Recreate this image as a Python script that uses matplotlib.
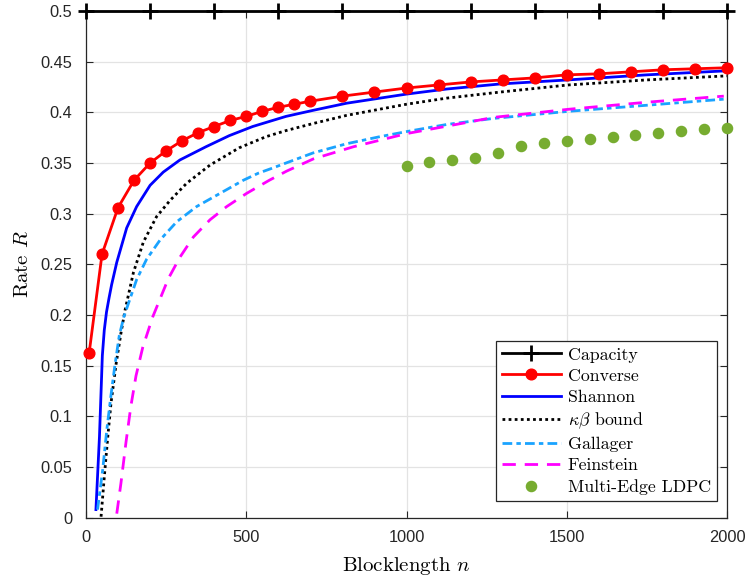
#!/usr/bin/env python3
import matplotlib
matplotlib.use("Agg")
import matplotlib.pyplot as plt

plt.rcParams['mathtext.fontset'] = 'cm'
plt.rcParams['font.family'] = ['Liberation Sans', 'DejaVu Sans']

# Data
capacity_n = [0, 200, 400, 600, 800, 1000, 1200, 1400, 1600, 1800, 2000]
capacity = [0.5] * len(capacity_n)

converse_n = [10, 50, 100, 150, 200, 250, 300, 350, 400, 450, 500, 550, 600, 650,
              700, 800, 900, 1000, 1100, 1200, 1300, 1400, 1500, 1600, 1700, 1800, 1900, 2000]
converse = [0.163, 0.260, 0.306, 0.333, 0.350, 0.362, 0.372, 0.380, 0.386, 0.392, 0.396,
            0.401, 0.405, 0.408, 0.411, 0.416, 0.420, 0.424, 0.427, 0.430, 0.432, 0.434,
            0.437, 0.438, 0.440, 0.442, 0.443, 0.444]

shannon_n = [31, 42, 51, 57, 64, 72, 80, 96, 127, 158, 200, 241, 293, 374, 447, 520, 624,
             709, 813, 1000, 1125, 1292, 1504, 1750, 2000]
shannon = [0.008, 0.080, 0.160, 0.185, 0.203, 0.217, 0.230, 0.252, 0.286, 0.307, 0.328,
           0.341, 0.353, 0.366, 0.377, 0.386, 0.396, 0.402, 0.409, 0.418, 0.423, 0.428,
           0.432, 0.437, 0.441]

kb_n = [47, 57, 68, 78, 94, 109, 122, 148, 179, 220, 262, 314, 387, 478, 562, 624, 709,
        813, 1000, 1125, 1292, 1504, 1750, 2000]
kb = [0.001, 0.040, 0.080, 0.113, 0.152, 0.182, 0.205, 0.242, 0.272, 0.297, 0.313, 0.330,
      0.348, 0.365, 0.376, 0.382, 0.389, 0.397, 0.408, 0.414, 0.420, 0.427, 0.432, 0.436]

gallager_n = [36, 52, 65, 78, 90, 104, 118, 133, 158, 189, 231, 283, 345, 418, 491, 538,
              582, 624, 709, 813, 917, 1000, 1125, 1271, 1505, 1750, 1990]
gallager = [0.008, 0.047, 0.087, 0.121, 0.150, 0.180, 0.198, 0.212, 0.235, 0.255, 0.274,
            0.292, 0.307, 0.320, 0.333, 0.340, 0.345, 0.350, 0.360, 0.369, 0.376, 0.381,
            0.388, 0.394, 0.401, 0.407, 0.413]

feinstein_n = [96, 109, 125, 140, 156, 177, 208, 226, 257, 293, 335, 387, 439, 501, 572,
               626, 709, 834, 1000, 1188, 1271, 1505, 1750, 1990]
feinstein = [0.004, 0.034, 0.075, 0.110, 0.140, 0.168, 0.198, 0.212, 0.236, 0.257, 0.277,
             0.294, 0.307, 0.320, 0.333, 0.342, 0.354, 0.366, 0.379, 0.390, 0.395, 0.403,
             0.410, 0.416]

ldpc_n = [1000, 1071, 1143, 1214, 1286, 1357, 1429, 1500, 1571, 1643, 1714, 1786, 1857,
          1929, 2000]
ldpc = [0.347, 0.351, 0.353, 0.355, 0.360, 0.367, 0.370, 0.372, 0.374, 0.376, 0.378,
        0.380, 0.382, 0.384, 0.385]

xticks = [0, 500, 1000, 1500, 2000]
xtick_labels = ['0', '500', '1000', '1500', '2000']
yticks = [0, 0.05, 0.1, 0.15, 0.2, 0.25, 0.3, 0.35, 0.4, 0.45, 0.5]
ytick_labels = ['0', '0.05', '0.1', '0.15', '0.2', '0.25', '0.3', '0.35', '0.4', '0.45', '0.5']

fig = plt.figure(figsize=(7.52, 5.8), dpi=100)
ax = fig.add_axes([86 / 752, 1 - 517.7 / 580, 641 / 752, 506.7 / 580])

ax.plot(capacity_n, capacity, color='black', lw=2, marker='+', ms=11, mew=2,
        label='Capacity', clip_on=False, zorder=6)
ax.plot(converse_n, converse, color='red', lw=2, marker='o', ms=7.7,
        label='Converse', clip_on=False, zorder=5)
ax.plot(shannon_n, shannon, color='blue', lw=2, label='Shannon', zorder=4)
ax.plot(kb_n, kb, color='black', lw=2, linestyle=(0, (1, 1.2)),
        label=r'$\kappa\beta$ bound', zorder=4)
ax.plot(gallager_n, gallager, color='#1AA3FF', lw=2, linestyle=(0, (3.5, 1.5, 1.6, 1.5)),
        label='Gallager', zorder=4)
ax.plot(feinstein_n, feinstein, color='#FF00FF', lw=2, linestyle=(0, (4.8, 3.2)),
        label='Feinstein', zorder=4)
ax.plot(ldpc_n, ldpc, color='#77AC30', linestyle='none', marker='o', ms=7.3,
        label='Multi-Edge LDPC', clip_on=False, zorder=4)

ax.set_xlim(0, 2000)
ax.set_ylim(0, 0.5)
ax.set_xticks(xticks)
ax.set_xticklabels(xtick_labels)
ax.set_yticks(yticks)
ax.set_yticklabels(ytick_labels)
ax.tick_params(direction='in', length=5, width=0.8, colors='#262626', labelsize=11.8,
               top=True, right=True)
ax.tick_params(axis='x', pad=9)
ax.tick_params(axis='y', pad=10)
ax.grid(True, color='#E3E3E3', lw=0.9)
ax.set_axisbelow(True)
for s in ax.spines.values():
    s.set_color('#262626')
    s.set_linewidth(0.9)

ax.set_xlabel(r'Blocklength $n$', fontsize=15, family='cmr10', labelpad=7)
ax.set_ylabel(r'Rate $R$', fontsize=15, family='cmr10', labelpad=6)

leg = ax.legend(loc='lower right', bbox_to_anchor=(0.9844, 0.033), borderaxespad=0,
                prop={'family': 'cmr10', 'size': 12.8}, fancybox=False, framealpha=1,
                edgecolor='#262626', handlelength=3.3, labelspacing=0.32,
                borderpad=0.35, handletextpad=0.4)
leg.get_frame().set_linewidth(0.9)

fig.savefig('out.png', dpi=100)
